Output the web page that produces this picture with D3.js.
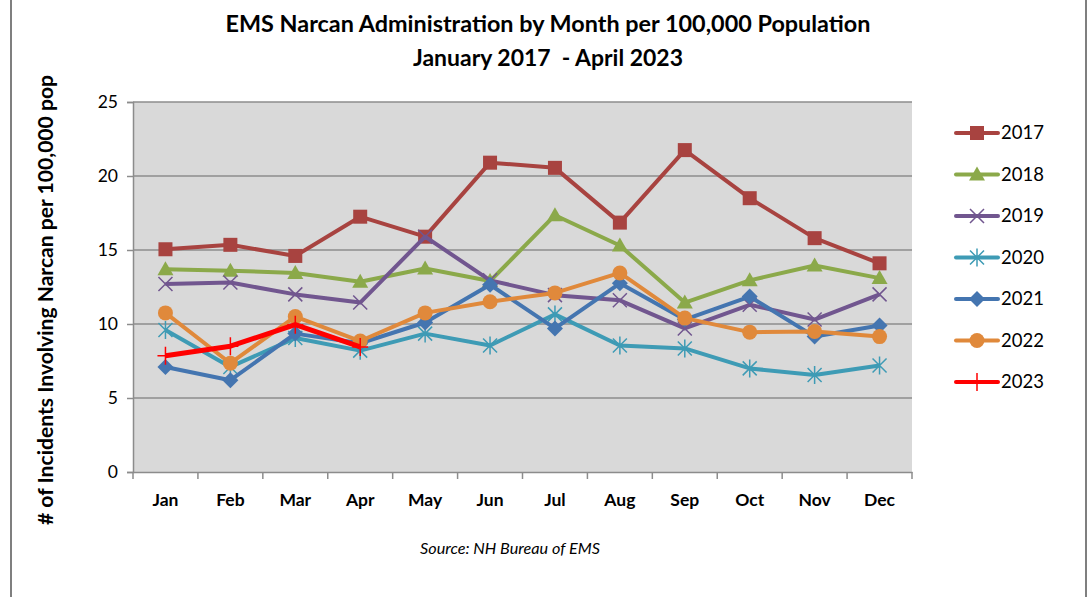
<!DOCTYPE html>
<html><head><meta charset="utf-8">
<script src="https://cdn.jsdelivr.net/npm/d3@7"></script>
<style>body{margin:0;background:#fff;} svg{display:block;}</style>
</head><body>
<svg id="chart" width="1092" height="597"></svg>
<script>
const months = ["Jan","Feb","Mar","Apr","May","Jun","Jul","Aug","Sep","Oct","Nov","Dec"];
const years = ["2017","2018","2019","2020","2021","2022","2023"];
const v2017 = [15.05,15.35,14.6,17.25,15.9,20.9,20.55,16.85,21.75,18.5,15.8,14.1];
const v2018 = [13.7,13.6,13.45,12.85,13.75,12.9,17.35,15.3,11.45,12.95,13.95,13.1];
const v2019 = [12.7,12.8,12.0,11.45,15.9,12.95,11.95,11.6,9.7,11.3,10.3,12.0];
const v2020 = [9.6,7.1,9.05,8.2,9.35,8.55,10.65,8.55,8.35,7.0,6.55,7.2];
const v2021 = [7.1,6.2,9.35,8.7,10.1,12.65,9.7,12.75,10.3,11.85,9.15,9.9];
const v2022 = [10.75,7.35,10.5,8.85,10.75,11.5,12.1,13.45,10.4,9.45,9.5,9.15];
const v2023 = [7.85,8.5,9.95,8.45];
const yTicks = [0,5,10,15,20,25];
const seriesValues = [v2017,v2018,v2019,v2020,v2021,v2022,v2023];
const colors = ["#A84340","#8BA94A","#71568F","#3E9BB5","#4475B0","#E0893B","#FF0000"];
const markers = ["square","triangle","x","star","diamond","circle","plus"];

const svg = d3.select("#chart");
const font = "Lato, 'Open Sans', sans-serif";

function fit(sel, target){
  const n = sel.node();
  const fs = parseFloat(sel.attr("font-size"));
  const w = n.getComputedTextLength();
  if(w>0) sel.attr("font-size", (fs*target/w).toFixed(2));
  return sel;
}

// outer frame lines
svg.append("line").attr("x1",11).attr("x2",11).attr("y1",0).attr("y2",597).attr("stroke","#7f7f7f").attr("stroke-width",2);
svg.append("line").attr("x1",1086).attr("x2",1086).attr("y1",0).attr("y2",597).attr("stroke","#7f7f7f").attr("stroke-width",2);

const L=133,R=912,T=102,B=472;
const x = d3.scaleBand().domain(months).range([L,R]);
const y = d3.scaleLinear().domain([0,25]).range([B,T]);

svg.append("rect").attr("x",L).attr("y",T).attr("width",R-L).attr("height",B-T).attr("fill","#D9D9D9");

// gridlines
svg.append("g").selectAll("line").data(yTicks.slice(1)).join("line")
  .attr("x1",L).attr("x2",R).attr("y1",d=>y(d)).attr("y2",d=>y(d))
  .attr("stroke","#8c8c8c").attr("stroke-width",1.5);

// y axis
const ya = svg.append("g").attr("transform",`translate(${L},0)`)
  .call(d3.axisLeft(y).tickValues(yTicks).tickSize(6).tickPadding(9));
ya.select(".domain").attr("stroke","#8c8c8c").attr("stroke-width",1.5);
ya.selectAll(".tick line").attr("stroke","#8c8c8c").attr("stroke-width",1.5);
ya.selectAll("text").attr("font-family",font).attr("font-size",17.5).attr("fill","#000");

// x axis
const xa = svg.append("g").attr("transform",`translate(0,${B})`)
  .call(d3.axisBottom(x).tickSize(0).tickPadding(22));
xa.select(".domain").attr("stroke","#8c8c8c").attr("stroke-width",1.5);
xa.selectAll("text").attr("font-family",font).attr("font-size",17.5).attr("font-weight","bold").attr("fill","#000");
const bounds = months.map(m=>x(m)).concat([R]);
svg.append("g").selectAll("line").data(bounds).join("line")
  .attr("x1",d=>d).attr("x2",d=>d).attr("y1",B).attr("y2",B+7)
  .attr("stroke","#8c8c8c").attr("stroke-width",1.5);

function drawMarker(g, type, color){
  if(type==="square") g.append("rect").attr("x",-7).attr("y",-7).attr("width",14).attr("height",14).attr("fill",color);
  else if(type==="triangle") g.append("path").attr("d","M0,-8L8,6L-8,6Z").attr("fill",color);
  else if(type==="diamond") g.append("path").attr("d","M0,-8L8,0L0,8L-8,0Z").attr("fill",color);
  else if(type==="circle") g.append("circle").attr("r",7.5).attr("fill",color);
  else if(type==="x") g.append("path").attr("d","M-7,-7L7,7M-7,7L7,-7").attr("stroke",color).attr("stroke-width",1.5);
  else if(type==="star") g.append("path").attr("d","M-7,-7L7,7M-7,7L7,-7M0,-9V9").attr("stroke",color).attr("stroke-width",1.5);
  else if(type==="plus") g.append("path").attr("d","M-8,0H8M0,-9V9").attr("stroke",color).attr("stroke-width",1.5);
}

const line = d3.line().x((d,i)=>x(months[i])+x.bandwidth()/2).y(d=>y(d));
seriesValues.forEach((vals,si)=>{
  const g = svg.append("g");
  g.append("path").attr("d",line(vals)).attr("fill","none").attr("stroke",colors[si])
    .attr("stroke-width",si===6?5:4).attr("stroke-linejoin","round");
  vals.forEach((v,i)=>{
    const mg = g.append("g").attr("transform",`translate(${x(months[i])+x.bandwidth()/2},${y(v)})`);
    drawMarker(mg, markers[si], colors[si]);
  });
});

// legend
const leg = svg.append("g");
const legY = d3.scalePoint().domain(years).range([133,382]);
years.forEach((yr,i)=>{
  const cy = legY(yr);
  leg.append("line").attr("x1",956).attr("x2",998).attr("y1",cy).attr("y2",cy).attr("stroke",colors[i]).attr("stroke-width",4).attr("stroke-linecap","round");
  const mg = leg.append("g").attr("transform",`translate(977,${cy})`);
  drawMarker(mg, markers[i], colors[i]);
  leg.append("text").attr("x",1001).attr("y",cy).attr("dy","0.35em").attr("font-family",font).attr("font-size",18.5).attr("fill","#000").text(yr);
});

// title
fit(svg.append("text").attr("x",548).attr("y",32).attr("text-anchor","middle").attr("font-family",font).attr("font-size",21).attr("font-weight","bold").text("EMS Narcan Administration by Month per 100,000 Population"), 645);
fit(svg.append("text").attr("x",548).attr("y",66).attr("text-anchor","middle").attr("font-family",font).attr("font-size",21).attr("font-weight","bold").attr("xml:space","preserve").text("January 2017  - April 2023"), 270);

// y label
fit(svg.append("text").attr("transform","translate(53,300) rotate(-90)").attr("text-anchor","middle").attr("font-family",font).attr("font-size",16).attr("font-weight","bold").text("# of Incidents Involving Narcan per 100,000 pop"), 450);

// source
fit(svg.append("text").attr("x",510).attr("y",554).attr("text-anchor","middle").attr("font-family",font).attr("font-size",13).attr("font-style","italic").text("Source: NH Bureau of EMS"), 180);
</script>
</body></html>
